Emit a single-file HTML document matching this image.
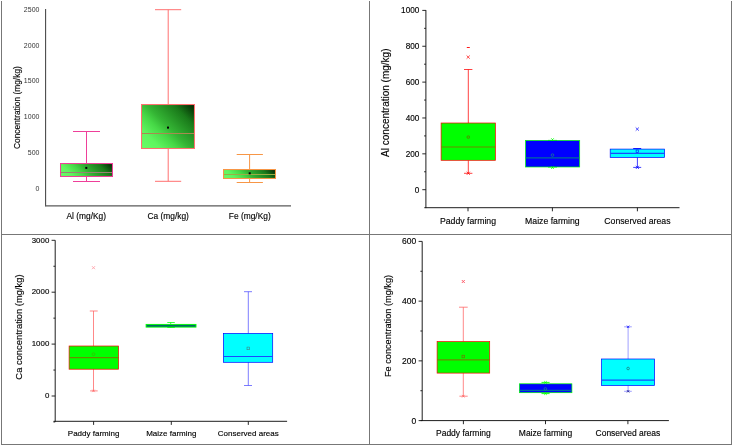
<!DOCTYPE html>
<html><head><meta charset="utf-8"><style>
html,body{margin:0;padding:0;background:#fff;width:733px;height:446px;overflow:hidden}
svg{display:block;will-change:transform}
text{font-family:"Liberation Sans",sans-serif;stroke:#000;stroke-width:0.22px;stroke-opacity:0.6}
</style></head><body>
<svg width="733" height="446" viewBox="0 0 733 446">
<defs>
<linearGradient id="gg">
<stop offset="0" stop-color="#66ff66"/><stop offset="0.2" stop-color="#5ff55f"/><stop offset="0.375" stop-color="#46d846"/><stop offset="0.5" stop-color="#34b434"/><stop offset="0.78" stop-color="#1a7a1a"/><stop offset="1" stop-color="#002000"/>
</linearGradient>
</defs>
<rect width="733" height="446" fill="#fff"/>

<line x1="1.5" y1="1" x2="1.5" y2="445" stroke="#777" stroke-width="1"/>
<line x1="369.5" y1="1" x2="369.5" y2="445" stroke="#777" stroke-width="1"/>
<line x1="731.5" y1="1" x2="731.5" y2="445" stroke="#777" stroke-width="1"/>
<line x1="1" y1="234.5" x2="732" y2="234.5" stroke="#777" stroke-width="1"/>
<line x1="1" y1="444.5" x2="732" y2="444.5" stroke="#777" stroke-width="1"/>
<line x1="45.6" y1="9" x2="45.6" y2="206.2" stroke="#444" stroke-width="1.05"/>
<line x1="45.1" y1="205.9" x2="291" y2="205.9" stroke="#5a5a5a" stroke-width="1.1"/>
<text transform="translate(39.4,190.5) scale(0.875,1)" text-anchor="end" font-size="8" fill="#333" style="stroke:none">0</text>
<text transform="translate(39.4,154.76) scale(0.875,1)" text-anchor="end" font-size="8" fill="#333" style="stroke:none">500</text>
<text transform="translate(39.4,119.02) scale(0.875,1)" text-anchor="end" font-size="8" fill="#333" style="stroke:none">1000</text>
<text transform="translate(39.4,83.28) scale(0.875,1)" text-anchor="end" font-size="8" fill="#333" style="stroke:none">1500</text>
<text transform="translate(39.4,47.54) scale(0.875,1)" text-anchor="end" font-size="8" fill="#333" style="stroke:none">2000</text>
<text transform="translate(39.4,11.8) scale(0.875,1)" text-anchor="end" font-size="8" fill="#333" style="stroke:none">2500</text>
<text x="86.25" y="219.2" text-anchor="middle" font-size="8.4" fill="#000">Al (mg/Kg)</text>
<text x="168.15" y="219.2" text-anchor="middle" font-size="8.4" fill="#000">Ca (mg/kg)</text>
<text x="249.8" y="219.2" text-anchor="middle" font-size="8.4" fill="#000">Fe (mg/Kg)</text>
<text transform="translate(20,107.6) rotate(-90)" text-anchor="middle" font-size="8.4" fill="#000">Concentration (mg/kg)</text>
<line x1="86.5" y1="163" x2="86.5" y2="131.5" stroke="#ee3f99" stroke-width="1"/>
<line x1="73" y1="131.5" x2="100" y2="131.5" stroke="#ee3f99" stroke-width="1"/>
<line x1="86.5" y1="177" x2="86.5" y2="181.5" stroke="#ee3f99" stroke-width="1"/>
<line x1="73" y1="181.5" x2="100" y2="181.5" stroke="#ee3f99" stroke-width="1"/>
<linearGradient id="g1" gradientUnits="userSpaceOnUse" x1="60.5" y1="176.5" x2="93" y2="144"><stop offset="0" stop-color="#66ff66"/><stop offset="0.2" stop-color="#5ff55f"/><stop offset="0.375" stop-color="#46d846"/><stop offset="0.5" stop-color="#34b434"/><stop offset="0.78" stop-color="#1a7a1a"/><stop offset="1" stop-color="#002000"/></linearGradient>
<rect x="60.5" y="163.5" width="52" height="13" fill="url(#g1)" stroke="none" stroke-width="1"/>
<line x1="61" y1="172.5" x2="112" y2="172.5" stroke="#9a8272" stroke-width="1"/>
<rect x="60.52" y="163.53" width="51.95" height="12.95" fill="none" stroke="#ee3f99" stroke-width="1.05"/>
<rect x="85.3" y="166.9" width="2" height="2" fill="#000" stroke="none" stroke-width="1"/>
<line x1="168.2" y1="104" x2="168.2" y2="9.7" stroke="#ff7070" stroke-width="1"/>
<line x1="155" y1="9.7" x2="181.2" y2="9.7" stroke="#ff7070" stroke-width="1"/>
<line x1="168.2" y1="149" x2="168.2" y2="181.3" stroke="#ff7070" stroke-width="1"/>
<line x1="155" y1="181.3" x2="181.2" y2="181.3" stroke="#ff7070" stroke-width="1"/>
<linearGradient id="g2" gradientUnits="userSpaceOnUse" x1="141.5" y1="148.5" x2="190" y2="100"><stop offset="0" stop-color="#66ff66"/><stop offset="0.2" stop-color="#5ff55f"/><stop offset="0.375" stop-color="#46d846"/><stop offset="0.5" stop-color="#34b434"/><stop offset="0.78" stop-color="#1a7a1a"/><stop offset="1" stop-color="#002000"/></linearGradient>
<rect x="141.5" y="104.5" width="53" height="44" fill="url(#g2)" stroke="none" stroke-width="1"/>
<line x1="142" y1="133.5" x2="194" y2="133.5" stroke="#a88a50" stroke-width="1"/>
<rect x="141.53" y="104.53" width="52.95" height="43.95" fill="none" stroke="#ff7070" stroke-width="1.05"/>
<rect x="167" y="126.6" width="2" height="2" fill="#000" stroke="none" stroke-width="1"/>
<line x1="249.6" y1="169" x2="249.6" y2="154.5" stroke="#f79646" stroke-width="1"/>
<line x1="236.7" y1="154.5" x2="262.9" y2="154.5" stroke="#f79646" stroke-width="1"/>
<line x1="249.6" y1="179" x2="249.6" y2="182.5" stroke="#f79646" stroke-width="1"/>
<line x1="236.7" y1="182.5" x2="262.9" y2="182.5" stroke="#f79646" stroke-width="1"/>
<linearGradient id="g3" gradientUnits="userSpaceOnUse" x1="223.5" y1="178.5" x2="254" y2="148"><stop offset="0" stop-color="#66ff66"/><stop offset="0.2" stop-color="#5ff55f"/><stop offset="0.375" stop-color="#46d846"/><stop offset="0.5" stop-color="#34b434"/><stop offset="0.78" stop-color="#1a7a1a"/><stop offset="1" stop-color="#002000"/></linearGradient>
<rect x="223.5" y="169.5" width="52" height="9" fill="url(#g3)" stroke="none" stroke-width="1"/>
<line x1="224" y1="174.5" x2="275" y2="174.5" stroke="#9aae44" stroke-width="1"/>
<rect x="223.53" y="169.53" width="51.95" height="8.95" fill="none" stroke="#f79646" stroke-width="1.05"/>
<rect x="248.7" y="172.3" width="2" height="2" fill="#000" stroke="none" stroke-width="1"/>
<line x1="425.9" y1="10.1" x2="425.9" y2="208.1" stroke="#111" stroke-width="0.95"/>
<line x1="424.3" y1="207.7" x2="679.5" y2="207.7" stroke="#111" stroke-width="0.95"/>
<line x1="422.3" y1="10.4" x2="425.9" y2="10.4" stroke="#111" stroke-width="0.9"/>
<text x="419.3" y="13.3" text-anchor="end" font-size="8.2" fill="#000">1000</text>
<line x1="422.3" y1="46.26" x2="425.9" y2="46.26" stroke="#111" stroke-width="0.9"/>
<text x="419.3" y="49.16" text-anchor="end" font-size="8.2" fill="#000">800</text>
<line x1="422.3" y1="82.12" x2="425.9" y2="82.12" stroke="#111" stroke-width="0.9"/>
<text x="419.3" y="85.02" text-anchor="end" font-size="8.2" fill="#000">600</text>
<line x1="422.3" y1="117.98" x2="425.9" y2="117.98" stroke="#111" stroke-width="0.9"/>
<text x="419.3" y="120.88" text-anchor="end" font-size="8.2" fill="#000">400</text>
<line x1="422.3" y1="153.84" x2="425.9" y2="153.84" stroke="#111" stroke-width="0.9"/>
<text x="419.3" y="156.74" text-anchor="end" font-size="8.2" fill="#000">200</text>
<line x1="422.3" y1="189.7" x2="425.9" y2="189.7" stroke="#111" stroke-width="0.9"/>
<text x="419.3" y="192.6" text-anchor="end" font-size="8.2" fill="#000">0</text>
<line x1="424.1" y1="28.33" x2="425.9" y2="28.33" stroke="#111" stroke-width="0.9"/>
<line x1="424.1" y1="64.19" x2="425.9" y2="64.19" stroke="#111" stroke-width="0.9"/>
<line x1="424.1" y1="100.05" x2="425.9" y2="100.05" stroke="#111" stroke-width="0.9"/>
<line x1="424.1" y1="135.91" x2="425.9" y2="135.91" stroke="#111" stroke-width="0.9"/>
<line x1="424.1" y1="171.77" x2="425.9" y2="171.77" stroke="#111" stroke-width="0.9"/>
<line x1="468" y1="207.7" x2="468" y2="211.3" stroke="#111" stroke-width="0.9"/>
<text x="468" y="223.6" text-anchor="middle" font-size="8.7" fill="#000">Paddy farming</text>
<line x1="552.4" y1="207.7" x2="552.4" y2="211.3" stroke="#111" stroke-width="0.9"/>
<text x="552.4" y="223.6" text-anchor="middle" font-size="8.7" fill="#000">Maize farming</text>
<line x1="637.4" y1="207.7" x2="637.4" y2="211.3" stroke="#111" stroke-width="0.9"/>
<text x="637.4" y="223.6" text-anchor="middle" font-size="8.7" fill="#000">Conserved areas</text>
<text transform="translate(388.7,102.7) rotate(-90)" text-anchor="middle" font-size="10" fill="#000">Al concentration (mg/kg)</text>
<line x1="468.3" y1="123.1" x2="468.3" y2="69.5" stroke="#ff0000" stroke-width="0.75"/>
<line x1="464" y1="69.5" x2="472.4" y2="69.5" stroke="#ff0000" stroke-width="0.75"/>
<line x1="468.3" y1="160.3" x2="468.3" y2="173.3" stroke="#ff0000" stroke-width="0.75"/>
<line x1="464" y1="173.3" x2="472.4" y2="173.3" stroke="#ff0000" stroke-width="0.75"/>
<rect x="441.1" y="123" width="54.3" height="37.3" fill="#00ff00" stroke="none" stroke-width="1"/>
<rect x="441.1" y="123" width="54.3" height="37.3" fill="none" stroke="#ff0000" stroke-width="0.7"/>
<line x1="441.4" y1="147" x2="495.1" y2="147" stroke="#6a8c00" stroke-width="1.2"/>
<line x1="466.6" y1="55.5" x2="469.8" y2="58.7" stroke="#ff0000" stroke-width="0.7"/>
<line x1="466.6" y1="58.7" x2="469.8" y2="55.5" stroke="#ff0000" stroke-width="0.7"/>
<line x1="466.8" y1="47.5" x2="469.8" y2="47.5" stroke="#ff0000" stroke-width="0.9"/>
<line x1="466.7" y1="171.7" x2="469.9" y2="174.9" stroke="#ff0000" stroke-width="0.7"/>
<line x1="466.7" y1="174.9" x2="469.9" y2="171.7" stroke="#ff0000" stroke-width="0.7"/>
<circle cx="468.3" cy="137.1" r="1.3" fill="none" stroke="#805000" stroke-width="0.6"/>
<line x1="548" y1="140.4" x2="557" y2="140.4" stroke="#00ff00" stroke-width="0.9"/>
<line x1="548" y1="167" x2="557" y2="167" stroke="#00ff00" stroke-width="0.9"/>
<rect x="525.5" y="140.4" width="54.2" height="26.6" fill="#0000ff" stroke="none" stroke-width="1"/>
<rect x="525.5" y="140.4" width="54.2" height="26.6" fill="none" stroke="#00ff00" stroke-width="0.7"/>
<line x1="525.8" y1="157.9" x2="579.4" y2="157.9" stroke="#006a9c" stroke-width="1.2"/>
<line x1="551.1" y1="138.2" x2="553.9" y2="141" stroke="#00ff00" stroke-width="0.7"/>
<line x1="551.1" y1="141" x2="553.9" y2="138.2" stroke="#00ff00" stroke-width="0.7"/>
<line x1="551.1" y1="166.2" x2="553.9" y2="169" stroke="#00ff00" stroke-width="0.7"/>
<line x1="551.1" y1="169" x2="553.9" y2="166.2" stroke="#00ff00" stroke-width="0.7"/>
<circle cx="552.5" cy="155.1" r="1.3" fill="none" stroke="#20a070" stroke-width="0.6"/>
<line x1="637.4" y1="157.4" x2="637.4" y2="167.4" stroke="#0000ff" stroke-width="0.75"/>
<line x1="633.2" y1="167.4" x2="641.2" y2="167.4" stroke="#0000ff" stroke-width="0.75"/>
<line x1="633.2" y1="148.5" x2="641.2" y2="148.5" stroke="#0000ff" stroke-width="0.9"/>
<rect x="610.2" y="149.1" width="54.4" height="8.3" fill="#00ffff" stroke="none" stroke-width="1"/>
<rect x="610.2" y="149.1" width="54.4" height="8.3" fill="none" stroke="#0000ff" stroke-width="0.7"/>
<line x1="610.5" y1="153.3" x2="664.3" y2="153.3" stroke="#1a4aff" stroke-width="1.2"/>
<line x1="635.7" y1="127.5" x2="638.9" y2="130.7" stroke="#0000ff" stroke-width="0.7"/>
<line x1="635.7" y1="130.7" x2="638.9" y2="127.5" stroke="#0000ff" stroke-width="0.7"/>
<line x1="635.8" y1="165.8" x2="639" y2="169" stroke="#0000ff" stroke-width="0.7"/>
<line x1="635.8" y1="169" x2="639" y2="165.8" stroke="#0000ff" stroke-width="0.7"/>
<rect x="636.1" y="150" width="2.6" height="2.6" fill="none" stroke="#0000ff" stroke-width="0.6"/>
<line x1="55.2" y1="240.3" x2="55.2" y2="421.7" stroke="#111" stroke-width="0.95"/>
<line x1="53.6" y1="421.3" x2="287.1" y2="421.3" stroke="#111" stroke-width="0.95"/>
<line x1="51.6" y1="240.3" x2="55.2" y2="240.3" stroke="#111" stroke-width="0.9"/>
<text x="49.3" y="242.5" text-anchor="end" font-size="7.9" fill="#000">3000</text>
<line x1="51.6" y1="292.2" x2="55.2" y2="292.2" stroke="#111" stroke-width="0.9"/>
<text x="49.3" y="294.4" text-anchor="end" font-size="7.9" fill="#000">2000</text>
<line x1="51.6" y1="344.1" x2="55.2" y2="344.1" stroke="#111" stroke-width="0.9"/>
<text x="49.3" y="346.3" text-anchor="end" font-size="7.9" fill="#000">1000</text>
<line x1="51.6" y1="396" x2="55.2" y2="396" stroke="#111" stroke-width="0.9"/>
<text x="49.3" y="398.2" text-anchor="end" font-size="7.9" fill="#000">0</text>
<line x1="53.4" y1="266.25" x2="55.2" y2="266.25" stroke="#111" stroke-width="0.9"/>
<line x1="53.4" y1="318.15" x2="55.2" y2="318.15" stroke="#111" stroke-width="0.9"/>
<line x1="53.4" y1="370.05" x2="55.2" y2="370.05" stroke="#111" stroke-width="0.9"/>
<line x1="53.4" y1="421.95" x2="55.2" y2="421.95" stroke="#111" stroke-width="0.9"/>
<line x1="93.6" y1="421.3" x2="93.6" y2="424.9" stroke="#111" stroke-width="0.9"/>
<text x="93.6" y="435.9" text-anchor="middle" font-size="8.0" fill="#000">Paddy farming</text>
<line x1="171.3" y1="421.3" x2="171.3" y2="424.9" stroke="#111" stroke-width="0.9"/>
<text x="171.3" y="435.9" text-anchor="middle" font-size="8.0" fill="#000">Maize farming</text>
<line x1="248.3" y1="421.3" x2="248.3" y2="424.9" stroke="#111" stroke-width="0.9"/>
<text x="248.3" y="435.9" text-anchor="middle" font-size="8.0" fill="#000">Conserved areas</text>
<text transform="translate(21.6,327) rotate(-90)" text-anchor="middle" font-size="9.4" fill="#000">Ca concentration (mg/kg)</text>
<line x1="93.5" y1="346" x2="93.5" y2="311" stroke="#ff6060" stroke-width="0.75"/>
<line x1="89.8" y1="311" x2="97.7" y2="311" stroke="#ff6060" stroke-width="0.75"/>
<line x1="93.5" y1="369.2" x2="93.5" y2="390.9" stroke="#ff6060" stroke-width="0.75"/>
<line x1="90.1" y1="390.9" x2="97.7" y2="390.9" stroke="#ff6060" stroke-width="0.75"/>
<rect x="69.1" y="346" width="49.5" height="23.2" fill="#00ff00" stroke="none" stroke-width="1"/>
<rect x="69.1" y="346" width="49.5" height="23.2" fill="none" stroke="#ff0000" stroke-width="0.7"/>
<line x1="69.4" y1="357.6" x2="118.3" y2="357.6" stroke="#6a8c00" stroke-width="1.2"/>
<line x1="92" y1="266.2" x2="95" y2="269.2" stroke="#ffa0a8" stroke-width="0.9"/>
<line x1="92" y1="269.2" x2="95" y2="266.2" stroke="#ffa0a8" stroke-width="0.9"/>
<line x1="92.3" y1="389.7" x2="94.7" y2="392.1" stroke="#ff6060" stroke-width="0.7"/>
<line x1="92.3" y1="392.1" x2="94.7" y2="389.7" stroke="#ff6060" stroke-width="0.7"/>
<circle cx="93.5" cy="354.2" r="1.4" fill="none" stroke="#40b000" stroke-width="0.6"/>
<line x1="170.7" y1="324.6" x2="170.7" y2="322.5" stroke="#00ff00" stroke-width="0.75"/>
<line x1="167.3" y1="322.5" x2="174.8" y2="322.5" stroke="#00ff00" stroke-width="0.75"/>
<line x1="170.7" y1="327" x2="170.7" y2="327.5" stroke="#00ff00" stroke-width="0.75"/>
<line x1="167.3" y1="327.5" x2="174.8" y2="327.5" stroke="#00ff00" stroke-width="0.75"/>
<rect x="146.1" y="324.4" width="49.9" height="2.7" fill="#006868" stroke="#00ff00" stroke-width="0.9"/>
<line x1="248.3" y1="333.4" x2="248.3" y2="291.7" stroke="#5050ff" stroke-width="0.75"/>
<line x1="244" y1="291.7" x2="252" y2="291.7" stroke="#5050ff" stroke-width="0.75"/>
<line x1="248.3" y1="362.3" x2="248.3" y2="385.5" stroke="#5050ff" stroke-width="0.75"/>
<line x1="244" y1="385.5" x2="252" y2="385.5" stroke="#5050ff" stroke-width="0.75"/>
<rect x="223.4" y="333.4" width="49.3" height="28.9" fill="#00ffff" stroke="none" stroke-width="1"/>
<rect x="223.4" y="333.4" width="49.3" height="28.9" fill="none" stroke="#0000ff" stroke-width="0.7"/>
<line x1="223.7" y1="356.5" x2="272.4" y2="356.5" stroke="#1a4aff" stroke-width="1.2"/>
<rect x="247" y="347.1" width="2.6" height="2.6" fill="none" stroke="#408080" stroke-width="0.6"/>
<line x1="422.2" y1="241.4" x2="422.2" y2="421" stroke="#111" stroke-width="0.95"/>
<line x1="420.6" y1="420.6" x2="668.9" y2="420.6" stroke="#111" stroke-width="0.95"/>
<line x1="418.6" y1="241.4" x2="422.2" y2="241.4" stroke="#111" stroke-width="0.9"/>
<text x="416.2" y="244.4" text-anchor="end" font-size="8.5" fill="#000">600</text>
<line x1="418.6" y1="301.13" x2="422.2" y2="301.13" stroke="#111" stroke-width="0.9"/>
<text x="416.2" y="304.13" text-anchor="end" font-size="8.5" fill="#000">400</text>
<line x1="418.6" y1="360.87" x2="422.2" y2="360.87" stroke="#111" stroke-width="0.9"/>
<text x="416.2" y="363.87" text-anchor="end" font-size="8.5" fill="#000">200</text>
<line x1="418.6" y1="420.6" x2="422.2" y2="420.6" stroke="#111" stroke-width="0.9"/>
<text x="416.2" y="423.6" text-anchor="end" font-size="8.5" fill="#000">0</text>
<line x1="420.4" y1="271.27" x2="422.2" y2="271.27" stroke="#111" stroke-width="0.9"/>
<line x1="420.4" y1="331" x2="422.2" y2="331" stroke="#111" stroke-width="0.9"/>
<line x1="420.4" y1="390.73" x2="422.2" y2="390.73" stroke="#111" stroke-width="0.9"/>
<line x1="463.4" y1="420.6" x2="463.4" y2="424.2" stroke="#111" stroke-width="0.9"/>
<text x="463.4" y="435.6" text-anchor="middle" font-size="8.5" fill="#000">Paddy farming</text>
<line x1="545.5" y1="420.6" x2="545.5" y2="424.2" stroke="#111" stroke-width="0.9"/>
<text x="545.5" y="435.6" text-anchor="middle" font-size="8.5" fill="#000">Maize farming</text>
<line x1="627.9" y1="420.6" x2="627.9" y2="424.2" stroke="#111" stroke-width="0.9"/>
<text x="627.9" y="435.6" text-anchor="middle" font-size="8.5" fill="#000">Conserved areas</text>
<text transform="translate(391,326) rotate(-90)" text-anchor="middle" font-size="9.2" fill="#000">Fe concentration (mg/kg)</text>
<line x1="463.3" y1="341.6" x2="463.3" y2="307.2" stroke="#ff6060" stroke-width="0.75"/>
<line x1="459" y1="307.2" x2="467.7" y2="307.2" stroke="#ff6060" stroke-width="0.75"/>
<line x1="463.3" y1="373.1" x2="463.3" y2="396.2" stroke="#ff6060" stroke-width="0.75"/>
<line x1="459.4" y1="396.2" x2="467.7" y2="396.2" stroke="#ff6060" stroke-width="0.75"/>
<rect x="437.1" y="341.6" width="52.6" height="31.5" fill="#00ff00" stroke="none" stroke-width="1"/>
<rect x="437.1" y="341.6" width="52.6" height="31.5" fill="none" stroke="#ff0000" stroke-width="0.7"/>
<line x1="437.4" y1="359.8" x2="489.4" y2="359.8" stroke="#6a8c00" stroke-width="1.2"/>
<line x1="461.8" y1="280" x2="464.8" y2="283" stroke="#ff5060" stroke-width="0.9"/>
<line x1="461.8" y1="283" x2="464.8" y2="280" stroke="#ff5060" stroke-width="0.9"/>
<line x1="462" y1="394.9" x2="464.6" y2="397.5" stroke="#ff6060" stroke-width="0.7"/>
<line x1="462" y1="397.5" x2="464.6" y2="394.9" stroke="#ff6060" stroke-width="0.7"/>
<rect x="462" y="355.2" width="2.6" height="2.6" fill="none" stroke="#806000" stroke-width="0.6"/>
<line x1="541.5" y1="382.4" x2="549.6" y2="382.4" stroke="#00ff00" stroke-width="0.9"/>
<line x1="541.5" y1="393.6" x2="549.6" y2="393.6" stroke="#00ff00" stroke-width="0.9"/>
<rect x="519.4" y="383.8" width="52.5" height="8.9" fill="#0000ff" stroke="none" stroke-width="1"/>
<rect x="519.4" y="383.8" width="52.5" height="8.9" fill="none" stroke="#00ff00" stroke-width="0.7"/>
<line x1="519.7" y1="390.3" x2="571.6" y2="390.3" stroke="#006a9c" stroke-width="1.2"/>
<line x1="544.2" y1="381.1" x2="546.8" y2="383.7" stroke="#00ff00" stroke-width="0.7"/>
<line x1="544.2" y1="383.7" x2="546.8" y2="381.1" stroke="#00ff00" stroke-width="0.7"/>
<line x1="544.2" y1="392.3" x2="546.8" y2="394.9" stroke="#00ff00" stroke-width="0.7"/>
<line x1="544.2" y1="394.9" x2="546.8" y2="392.3" stroke="#00ff00" stroke-width="0.7"/>
<circle cx="545.4" cy="388.9" r="1.3" fill="none" stroke="#20a070" stroke-width="0.6"/>
<line x1="628.1" y1="359" x2="628.1" y2="326.8" stroke="#8080ff" stroke-width="0.75"/>
<line x1="624.1" y1="326.8" x2="631.8" y2="326.8" stroke="#8080ff" stroke-width="0.75"/>
<line x1="628.1" y1="385.5" x2="628.1" y2="391.3" stroke="#8080ff" stroke-width="0.75"/>
<line x1="624.1" y1="391.3" x2="631.8" y2="391.3" stroke="#8080ff" stroke-width="0.75"/>
<rect x="601.5" y="359" width="53.1" height="26.5" fill="#00ffff" stroke="none" stroke-width="1"/>
<rect x="601.5" y="359" width="53.1" height="26.5" fill="none" stroke="#0000ff" stroke-width="0.7"/>
<line x1="601.8" y1="380.1" x2="654.3" y2="380.1" stroke="#1a4aff" stroke-width="1.2"/>
<line x1="626.9" y1="325.6" x2="629.3" y2="328" stroke="#0000ff" stroke-width="0.7"/>
<line x1="626.9" y1="328" x2="629.3" y2="325.6" stroke="#0000ff" stroke-width="0.7"/>
<line x1="626.9" y1="390.1" x2="629.3" y2="392.5" stroke="#000080" stroke-width="0.7"/>
<line x1="626.9" y1="392.5" x2="629.3" y2="390.1" stroke="#000080" stroke-width="0.7"/>
<circle cx="628.1" cy="368.5" r="1.3" fill="none" stroke="#206060" stroke-width="0.6"/>
</svg></body></html>
